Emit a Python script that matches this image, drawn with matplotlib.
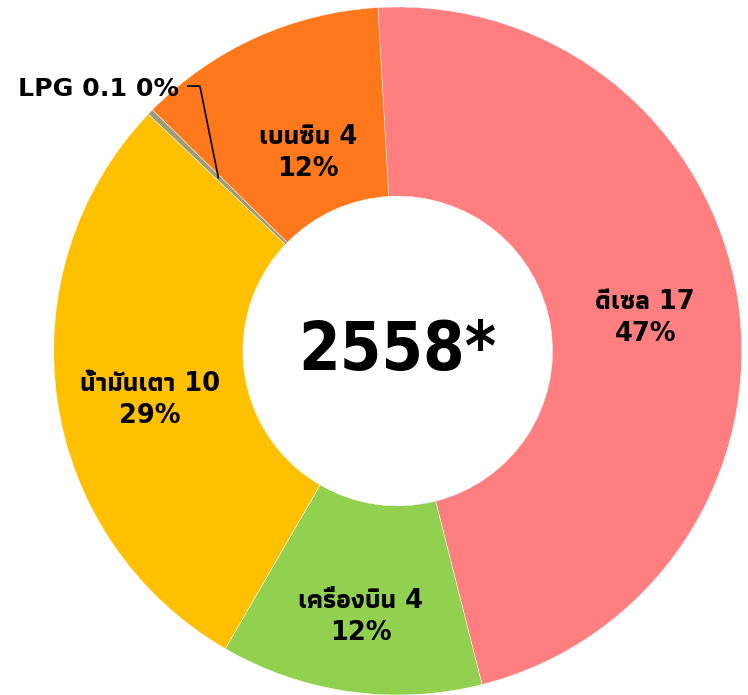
import numpy as np
import matplotlib
matplotlib.use("Agg")
import matplotlib.pyplot as plt
from matplotlib import font_manager
from matplotlib.ft2font import FT2Font

# data
fuels = ["ดีเซล", "เครื่องบิน", "น้ำมันเตา", "LPG", "เบนซิน"]
amounts = [17.0, 4.45, 10.4, 0.1, 4.24]
amount_text = ["17", "4", "10", "0.1", "4"]
colors = ["#FF7F80", "#92D050", "#FFC000", "#9E9C78", "#FF781C"]
year_text = "2558*"


def find_thai_font():
    # look for an installed font that has thai glyphs, bold first
    found = []
    for f in font_manager.fontManager.ttflist:
        try:
            cmap = FT2Font(f.fname).get_charmap()
        except Exception:
            continue
        if 0x0E14 in cmap and 0x0E35 in cmap:
            found.append(f)
    if not found:
        return None
    found.sort(key=lambda f: (0 if f.weight in ("bold", 700) else 1, f.name))
    return found[0].name


def find_narrow_font():
    # the big year is in a narrower face than DejaVu Sans
    for f in font_manager.fontManager.ttflist:
        if "condensed" in f.fname.lower() and "dejavusans" in f.fname.lower() \
                and "bold" in f.fname.lower() and "oblique" not in f.fname.lower():
            return font_manager.FontProperties(fname=f.fname)
    return font_manager.FontProperties(family="Noto Sans", weight="bold")


thai = find_thai_font()
fams = ["DejaVu Sans"] if thai is None else ["DejaVu Sans", thai]
plt.rcParams["font.family"] = fams

fig = plt.figure(figsize=(7.48, 6.95), dpi=100)
ax = fig.add_axes([0, 0, 1, 1])

wedges, _ = ax.pie(amounts, colors=colors, startangle=93.3, counterclock=False,
                   radius=1.0, wedgeprops=dict(width=0.55, linewidth=0.3, edgecolor="white"))

total = sum(amounts)
pcts = [round(a / total * 100) for a in amounts]

# label radius / angle nudge for each slice (Excel puts them about mid ring)
label_r = [0.726, 0.781, 0.735, 0.725, 0.632]
label_da = [-1.2, 0.0, 3.0, 0.0, 0.0]
for i, w in enumerate(wedges):
    mid = np.deg2rad((w.theta1 + w.theta2) / 2)
    txt = f"{fuels[i]} {amount_text[i]}"
    if fuels[i] == "LPG":
        x0, y0 = 0.725 * np.cos(mid), 0.725 * np.sin(mid)
        ax.plot([x0, -0.575, -0.61], [y0, 0.77, 0.77], color="black", lw=1.2)
        ax.text(-0.635, 0.762, f"{txt} {pcts[i]}%", ha="right", va="center",
                fontsize=18.2, fontweight="bold")
        continue
    r = label_r[i]
    a = mid + np.deg2rad(label_da[i])
    ax.text(r * np.cos(a), r * np.sin(a), f"{txt}\n{pcts[i]}%", ha="center",
            va="center", fontsize=18.5, fontweight="bold", linespacing=1.28)

big = find_narrow_font()
big.set_size(48)
ax.text(0, 0.0, year_text, ha="center", va="center", fontproperties=big)

ax.set_xlim(-397.7 / 344, (748 - 397.7) / 344)
ax.set_ylim(-(695 - 351) / 344, 351 / 344)
ax.set_aspect("auto")
ax.axis("off")

fig.savefig("out.png", dpi=100)
